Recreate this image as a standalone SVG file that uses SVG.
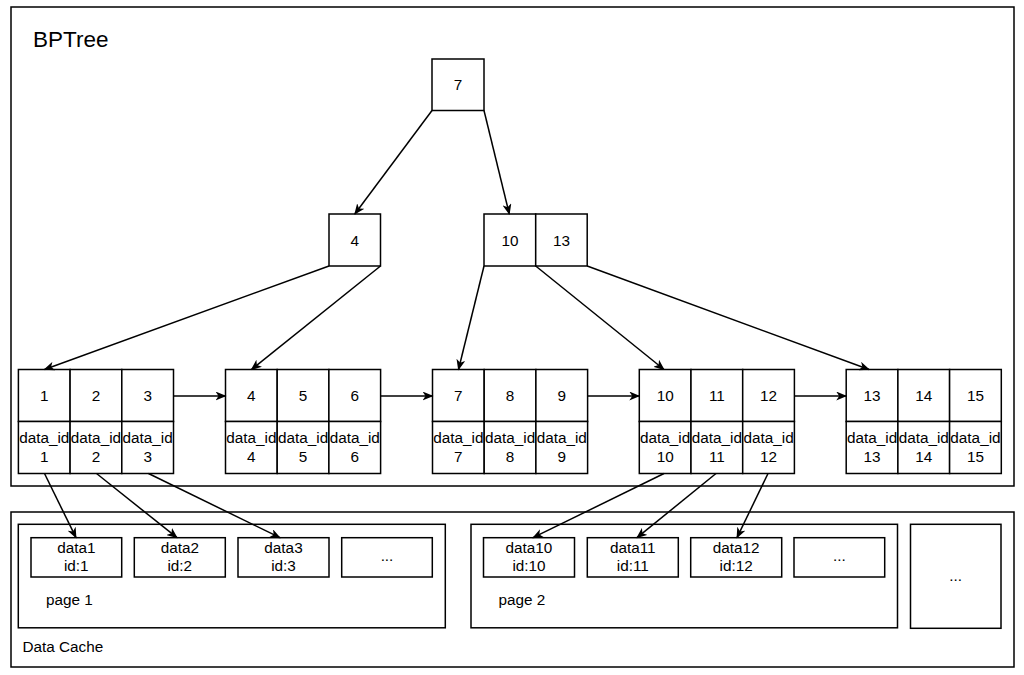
<svg xmlns="http://www.w3.org/2000/svg" width="1024" height="675" viewBox="0 0 1024 675">
<defs>
<style>
.box{fill:#fff;stroke:#000;stroke-width:1.5}
.frame{fill:none;stroke:#000;stroke-width:1.5}
.t{font-family:"Liberation Sans",Arial,sans-serif;font-size:15.3px;fill:#000;text-anchor:middle}
.tl{font-family:"Liberation Sans",Arial,sans-serif;font-size:15.3px;fill:#000}
.edge{fill:none;stroke:#000;stroke-width:1.5;marker-end:url(#arr)}
</style>
<marker id="arr" viewBox="0 0 11 9" refX="10" refY="4.5" markerWidth="11" markerHeight="9" markerUnits="userSpaceOnUse" orient="auto">
<path d="M0,0 L11,4.5 L0,9 L3,4.5 Z" fill="#000"/>
</marker>
<g id="leafcells">
<rect class="box" x="0" y="0" width="51.7" height="52"/>
<rect class="box" x="51.7" y="0" width="51.7" height="52"/>
<rect class="box" x="103.4" y="0" width="51.7" height="52"/>
<rect class="box" x="0" y="52" width="51.7" height="52"/>
<rect class="box" x="51.7" y="52" width="51.7" height="52"/>
<rect class="box" x="103.4" y="52" width="51.7" height="52"/>
</g>
</defs>
<rect width="1024" height="675" fill="#fff"/>

<g id="bptree">
<rect class="frame" x="11" y="7" width="1003" height="479"/>
<text x="33" y="47" style="font-family:'Liberation Sans',Arial,sans-serif;font-size:22.5px;fill:#000">BPTree</text>
</g>

<g id="datacache">
<rect class="frame" x="11" y="512" width="1003" height="155"/>
<text class="tl" x="22.5" y="652">Data Cache</text>
</g>

<g id="root">
<rect class="box" x="432" y="59" width="52" height="51.5"/>
<text class="t" x="458" y="90">7</text>
</g>

<g id="node4">
<rect class="box" x="329" y="214" width="51.5" height="52"/>
<text class="t" x="354.8" y="245.5">4</text>
</g>

<g id="node10_13">
<rect class="box" x="484" y="214" width="51.7" height="52"/>
<rect class="box" x="535.7" y="214" width="51.5" height="52"/>
<text class="t" x="510" y="245.5">10</text>
<text class="t" x="561.5" y="245.5">13</text>
</g>

<g id="leaf1" transform="translate(18.4,369.5)">
<use href="#leafcells"/>
<text class="t" x="25.85" y="31">1</text><text class="t" x="77.55" y="31">2</text><text class="t" x="129.25" y="31">3</text>
<text class="t" x="25.85" y="73.5">data_id</text><text class="t" x="77.55" y="73.5">data_id</text><text class="t" x="129.25" y="73.5">data_id</text>
<text class="t" x="25.85" y="92">1</text><text class="t" x="77.55" y="92">2</text><text class="t" x="129.25" y="92">3</text>
</g>

<g id="leaf2" transform="translate(225.5,369.5)">
<use href="#leafcells"/>
<text class="t" x="25.85" y="31">4</text><text class="t" x="77.55" y="31">5</text><text class="t" x="129.25" y="31">6</text>
<text class="t" x="25.85" y="73.5">data_id</text><text class="t" x="77.55" y="73.5">data_id</text><text class="t" x="129.25" y="73.5">data_id</text>
<text class="t" x="25.85" y="92">4</text><text class="t" x="77.55" y="92">5</text><text class="t" x="129.25" y="92">6</text>
</g>

<g id="leaf3" transform="translate(432.5,369.5)">
<use href="#leafcells"/>
<text class="t" x="25.85" y="31">7</text><text class="t" x="77.55" y="31">8</text><text class="t" x="129.25" y="31">9</text>
<text class="t" x="25.85" y="73.5">data_id</text><text class="t" x="77.55" y="73.5">data_id</text><text class="t" x="129.25" y="73.5">data_id</text>
<text class="t" x="25.85" y="92">7</text><text class="t" x="77.55" y="92">8</text><text class="t" x="129.25" y="92">9</text>
</g>

<g id="leaf4" transform="translate(639.3,369.5)">
<use href="#leafcells"/>
<text class="t" x="25.85" y="31">10</text><text class="t" x="77.55" y="31">11</text><text class="t" x="129.25" y="31">12</text>
<text class="t" x="25.85" y="73.5">data_id</text><text class="t" x="77.55" y="73.5">data_id</text><text class="t" x="129.25" y="73.5">data_id</text>
<text class="t" x="25.85" y="92">10</text><text class="t" x="77.55" y="92">11</text><text class="t" x="129.25" y="92">12</text>
</g>

<g id="leaf5" transform="translate(846.2,369.5)">
<use href="#leafcells"/>
<text class="t" x="25.85" y="31">13</text><text class="t" x="77.55" y="31">14</text><text class="t" x="129.25" y="31">15</text>
<text class="t" x="25.85" y="73.5">data_id</text><text class="t" x="77.55" y="73.5">data_id</text><text class="t" x="129.25" y="73.5">data_id</text>
<text class="t" x="25.85" y="92">13</text><text class="t" x="77.55" y="92">14</text><text class="t" x="129.25" y="92">15</text>
</g>

<g id="page1">
<rect class="box" x="18.3" y="524.3" width="427" height="103.5"/>
<text class="tl" x="46" y="605">page 1</text>
</g>
<g id="data1"><rect class="box" x="31" y="537.7" width="90.7" height="39.3"/><text class="t" x="76.3" y="553.3">data1</text><text class="t" x="76.3" y="570.5">id:1</text></g>
<g id="data2"><rect class="box" x="134.3" y="537.7" width="91" height="39.3"/><text class="t" x="179.8" y="553.3">data2</text><text class="t" x="179.8" y="570.5">id:2</text></g>
<g id="data3"><rect class="box" x="238" y="537.7" width="91" height="39.3"/><text class="t" x="283.5" y="553.3">data3</text><text class="t" x="283.5" y="570.5">id:3</text></g>
<g id="more1"><rect class="box" x="341.7" y="537.7" width="90.6" height="39.3"/><text class="t" x="387" y="561">...</text></g>

<g id="page2">
<rect class="box" x="471" y="524.3" width="426.5" height="103.5"/>
<text class="tl" x="498.5" y="605">page 2</text>
</g>
<g id="data10"><rect class="box" x="483.5" y="537.7" width="91" height="39.3"/><text class="t" x="529" y="553.3">data10</text><text class="t" x="529" y="570.5">id:10</text></g>
<g id="data11"><rect class="box" x="587.3" y="537.7" width="91" height="39.3"/><text class="t" x="632.8" y="553.3">data11</text><text class="t" x="632.8" y="570.5">id:11</text></g>
<g id="data12"><rect class="box" x="690.7" y="537.7" width="91" height="39.3"/><text class="t" x="736.2" y="553.3">data12</text><text class="t" x="736.2" y="570.5">id:12</text></g>
<g id="more2"><rect class="box" x="794" y="537.7" width="90.7" height="39.3"/><text class="t" x="839.3" y="561">...</text></g>

<g id="page_more">
<rect class="box" x="910.5" y="524.3" width="90.5" height="104"/>
<text class="t" x="955.7" y="581">...</text>
</g>

<g id="connectors">
<line class="edge" x1="432" y1="110.5" x2="354.8" y2="214"/>
<line class="edge" x1="484" y1="110.5" x2="509.3" y2="214"/>
<line class="edge" x1="329" y1="266" x2="44.5" y2="369.5"/>
<line class="edge" x1="380.5" y1="266" x2="251.4" y2="369.5"/>
<line class="edge" x1="484" y1="266" x2="458.5" y2="369.5"/>
<line class="edge" x1="535.7" y1="266" x2="664" y2="369.5"/>
<line class="edge" x1="587.2" y1="266" x2="869" y2="369.5"/>
<line class="edge" x1="173.5" y1="396" x2="225.5" y2="396"/>
<line class="edge" x1="380.6" y1="396" x2="432.5" y2="396"/>
<line class="edge" x1="587.6" y1="396" x2="639.3" y2="396"/>
<line class="edge" x1="794.4" y1="396" x2="846.2" y2="396"/>
<line class="edge" x1="44.5" y1="473.5" x2="76" y2="537.7"/>
<line class="edge" x1="96.5" y1="473.5" x2="177" y2="537.7"/>
<line class="edge" x1="148.5" y1="473.5" x2="280" y2="537.7"/>
<line class="edge" x1="664" y1="473.5" x2="533" y2="537.7"/>
<line class="edge" x1="716" y1="473.5" x2="637" y2="537.7"/>
<line class="edge" x1="768" y1="473.5" x2="737" y2="537.7"/>
</g>
</svg>
